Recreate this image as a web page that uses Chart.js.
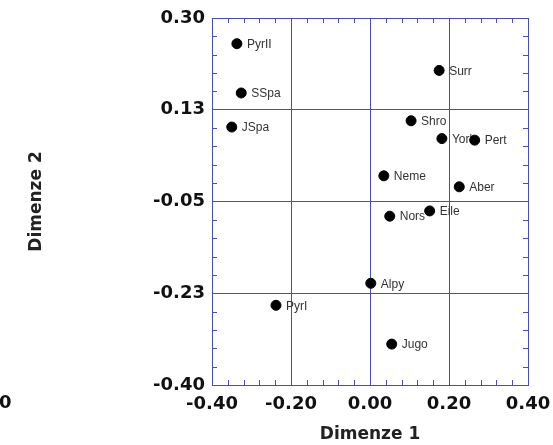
<!DOCTYPE html>
<html>
<head>
<meta charset="utf-8">
<script src="https://cdn.jsdelivr.net/npm/chart.js@4/dist/chart.umd.min.js"></script>
<style>
  html, body { margin: 0; padding: 0; background: #fff; }
  #wrap { width: 553px; height: 445px; }
</style>
</head>
<body>
<div id="wrap"><canvas id="mds"></canvas></div>
<script>
// site names and their coordinates on the two dimensions
var names = ['PyrII', 'SSpa', 'JSpa', 'Surr', 'Shro', 'York', 'Pert', 'Neme', 'Aber', 'Eile', 'Nors', 'Alpy', 'PyrI', 'Jugo'];
var dim1 = [-0.337, -0.326, -0.350, 0.175, 0.104, 0.182, 0.265, 0.035, 0.226, 0.151, 0.050, 0.002, -0.238, 0.055];
var dim2 = [0.251, 0.157, 0.092, 0.200, 0.104, 0.070, 0.067, -0.001, -0.022, -0.068, -0.078, -0.206, -0.248, -0.322];

var xTickValues = [-0.4, -0.2, 0, 0.2, 0.4];
var xTickLabels = ['-0.40', '-0.20', '0.00', '0.20', '0.40'];
var yTickValues = [-0.4, -0.225, -0.05, 0.125, 0.3];
var yTickLabels = ['-0.40', '-0.23', '-0.05', '0.13', '0.30'];

var blue = '#4a4eb2';
var tickFont = { family: '"DejaVu Sans"', size: 18, weight: 'bold' };
var titleFont = { family: '"DejaVu Sans"', size: 17, weight: 'bold' };

var decor = {
    id: 'decor',
    beforeDatasetsDraw: function (chart) {
        var ctx = chart.ctx;
        var meta = chart.getDatasetMeta(0);
        ctx.save();
        ctx.font = '12px "Liberation Sans", Arial';
        ctx.fillStyle = '#333';
        ctx.textAlign = 'left';
        ctx.textBaseline = 'middle';
        meta.data.forEach(function (pt, i) {
            ctx.fillText(names[i], pt.x + 10, pt.y + 1);
        });
        ctx.restore();
    },
    afterDraw: function (chart) {
        var ctx = chart.ctx;
        var a = chart.chartArea;
        var xs = chart.scales.x, ys = chart.scales.y;
        ctx.save();
        ctx.strokeStyle = blue;
        ctx.lineWidth = 1;
        ctx.beginPath();
        for (var i = 1; i < 20; i++) {
            if (i % 5 === 0) continue;
            var px = Math.round(xs.getPixelForValue(-0.4 + i * 0.04)) + 0.5;
            ctx.moveTo(px, a.top); ctx.lineTo(px, a.top + 5);
            ctx.moveTo(px, a.bottom); ctx.lineTo(px, a.bottom - 5);
        }
        for (var j = 1; j < 20; j++) {
            if (j % 5 === 0) continue;
            var py = Math.round(ys.getPixelForValue(-0.4 + j * 0.035)) + 0.5;
            ctx.moveTo(a.left, py); ctx.lineTo(a.left + 5, py);
            ctx.moveTo(a.right, py); ctx.lineTo(a.right - 5, py);
        }
        ctx.stroke();
        // cut-off label at the very left edge of the picture
        ctx.font = 'bold 18px "DejaVu Sans"';
        ctx.fillStyle = '#111';
        ctx.textAlign = 'left';
        ctx.textBaseline = 'middle';
        ctx.fillText('0', -1, 403);
        ctx.restore();
    }
};

new Chart(document.getElementById('mds'), {
    type: 'scatter',
    data: {
        datasets: [
            {
                label: 'Sites',
                data: dim1.map(function (x, i) { return { x: x, y: dim2[i] }; }),
                backgroundColor: '#000',
                borderColor: '#000',
                pointRadius: 5,
                pointHoverRadius: 5
            }
        ]
    },
    options: {
        responsive: true,
        maintainAspectRatio: false,
        animation: false,
        layout: { padding: { left: 0, right: 25, top: 18, bottom: 0 } },
        plugins: {
            legend: { display: false },
            tooltip: { enabled: false }
        },
        scales: {
            x: {
                type: 'linear',
                min: -0.4,
                max: 0.4,
                afterBuildTicks: function (scale) {
                    scale.ticks = xTickValues.map(function (v) { return { value: v }; });
                },
                afterFit: function (scale) {
                    scale.height = 60;
                    scale.paddingLeft = 0;
                    scale.paddingRight = 0;
                },
                ticks: {
                    font: tickFont,
                    color: '#111',
                    padding: 9,
                    maxRotation: 0,
                    callback: function (v, i) { return xTickLabels[i]; }
                },
                grid: { color: blue, lineWidth: 1, drawTicks: false },
                border: { color: blue, width: 1 },
                title: {
                    display: true,
                    text: 'Dimenze 1',
                    font: titleFont,
                    color: '#222',
                    padding: { top: 0, bottom: 0 }
                }
            },
            y: {
                type: 'linear',
                min: -0.4,
                max: 0.3,
                afterBuildTicks: function (scale) {
                    scale.ticks = yTickValues.map(function (v) { return { value: v }; });
                },
                afterFit: function (scale) {
                    scale.width = 212;
                    scale.paddingTop = 0;
                    scale.paddingBottom = 0;
                },
                ticks: {
                    font: tickFont,
                    color: '#111',
                    padding: 7,
                    callback: function (v, i) { return yTickLabels[i]; }
                },
                grid: { color: blue, lineWidth: 1, drawTicks: false },
                border: { color: blue, width: 1 },
                title: {
                    display: true,
                    text: 'Dimenze 2',
                    font: titleFont,
                    color: '#222',
                    padding: { top: 26, bottom: 0 }
                }
            }
        }
    },
    plugins: [decor]
});
</script>
</body>
</html>
